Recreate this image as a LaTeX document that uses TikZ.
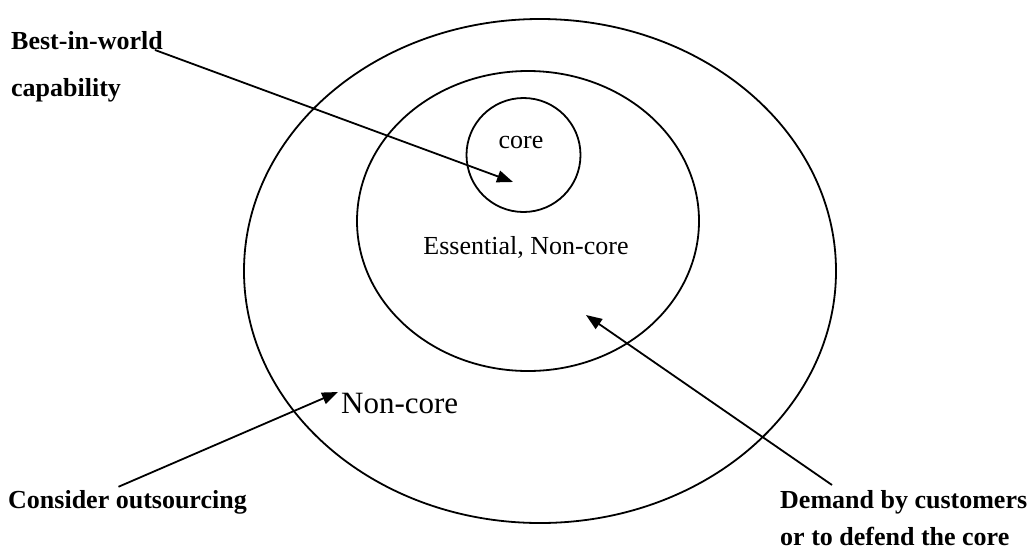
\documentclass[tikz,border=0pt]{standalone}
\usepackage{fontspec}
\setmainfont{Liberation Serif}
\usetikzlibrary{arrows.meta,calc,positioning}

\begin{document}
\begin{tikzpicture}[x=1pt,y=-1pt,
    > = {Triangle[length=16pt,width=12pt]},
    ring/.style = {line width=1.8pt},
    pointer/.style = {line width=1.8pt,->},
    lbl/.style = {font=\fontsize{26}{47}\selectfont\bfseries,align=left,inner sep=0pt},
    txt/.style = {font=\fontsize{26}{30}\selectfont,inner sep=0pt}
    ]
    \useasboundingbox (0,0) rectangle (1036,555);
    % Rings
    \draw[ring] (540,271) ellipse (296 and 252);
    \draw[ring] (528,221) ellipse (171 and 150);
    \draw[ring] (523.5,155) circle (57);
    % Ring texts
    \node[txt] (core) at (521,142) {core};
    \node[txt] (essential) at (526,247) {Essential, Non-core};
    \node[txt,font=\fontsize{31}{36}\selectfont,anchor=base west] (noncore) at (341,413) {Non-core};
    % Targets
    \coordinate (coretip) at (513,182);
    \coordinate (ringtip) at (338,392);
    \coordinate (esstip) at (586,315);
    % Labels
    \node[lbl,anchor=north west] (best) at (11,31) {Best-in-world\\capability};
    \node[lbl,anchor=base west] (consider) at (8,508) {Consider outsourcing};
    \node[lbl,anchor=north west,font=\fontsize{26}{37}\selectfont\bfseries] (demand) at (780,490) {Demand by customers\\or to defend the core};
    % Pointers
    \draw[pointer] ($(best.north west)+(144,19)$) -- (coretip);
    \draw[pointer] ($(consider.north)+(-9,-3)$) -- (ringtip);
    \draw[pointer] ($(demand.north west)+(52,-5)$) -- (esstip);
\end{tikzpicture}
\end{document}
